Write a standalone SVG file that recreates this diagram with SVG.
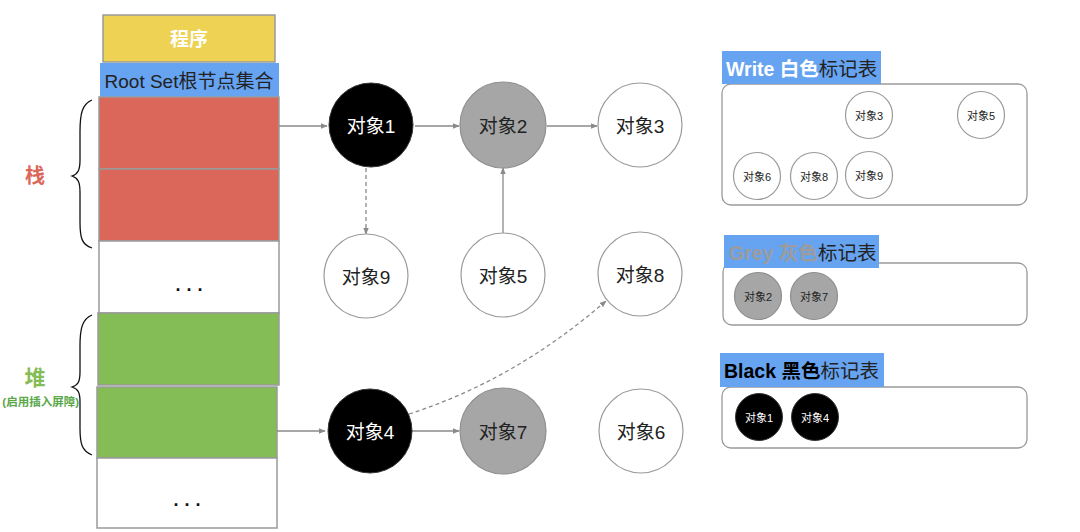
<svg xmlns="http://www.w3.org/2000/svg" width="1080" height="532" viewBox="0 0 1080 532">
<defs>
<marker id="arr" viewBox="0 0 10 10" refX="9" refY="5" markerWidth="7" markerHeight="7" orient="auto" markerUnits="userSpaceOnUse">
<path d="M0,1 L10,5 L0,9 z" fill="#8a8a8a"/>
</marker>
<style>
text{font-family:"Liberation Sans","Noto Sans CJK SC",sans-serif}
.box{stroke:#9a9a9a;stroke-width:1.5}
.c-white{fill:#fff;stroke:#9a9a9a;stroke-width:1.2}
.c-grey{fill:#a6a6a6;stroke:#8e8e8e;stroke-width:1.2}
.c-black{fill:#000;stroke:#333;stroke-width:1}
.lbl{font-size:19px;text-anchor:middle;dominant-baseline:central;fill:#222}
.lblw{font-size:19px;text-anchor:middle;dominant-baseline:central;fill:#fff}
.sl{font-size:11px;text-anchor:middle;dominant-baseline:central;fill:#222}
.slw{font-size:11px;text-anchor:middle;dominant-baseline:central;fill:#fff}
.edge{stroke:#8a8a8a;stroke-width:1.3;fill:none}
.dash{stroke-dasharray:4 3}
.panel{fill:#fff;stroke:#9a9a9a;stroke-width:1.3}
.tag{fill:#66a3f1}
.tagt{font-size:19.5px}
.dots{font-size:18px;font-weight:bold;text-anchor:middle;fill:#111;letter-spacing:6px}
.brace{fill:none;stroke:#111;stroke-width:1.3}
</style>
</defs>
<rect width="1080" height="532" fill="#fff"/>

<g id="program">
<rect x="103" y="15" width="172" height="47" fill="#eed253" class="box"/>
<text x="189" y="39" font-size="19" font-weight="bold" fill="#fff" text-anchor="middle" dominant-baseline="central">程序</text>
</g>
<g id="rootset">
<rect x="100" y="63" width="179" height="34" fill="#66a3f1"/>
<text x="189" y="81" font-size="19" fill="#222" text-anchor="middle" dominant-baseline="central">Root Set根节点集合</text>
</g>
<g id="stack-1"><rect x="99" y="97" width="180" height="72" fill="#db665a" class="box"/></g>
<g id="stack-2"><rect x="99" y="169" width="180" height="72" fill="#db665a" class="box"/></g>
<g id="stack-more"><rect x="99" y="241" width="180" height="72" fill="#fff" class="box"/>
<text x="192" y="291" class="dots">...</text></g>
<g id="heap-1"><rect x="98" y="313" width="181" height="72" fill="#84bc55" class="box"/></g>
<g id="heap-2"><rect x="97" y="387" width="180" height="71" fill="#84bc55" class="box"/></g>
<g id="heap-more"><rect x="97" y="458" width="180" height="70" fill="#fff" class="box"/>
<text x="190" y="506" class="dots">...</text></g>

<g id="stack-brace">
<path class="brace" d="M92 100 C82 104 80 114 80 132 L80 160 C80 170 78 174 72 176 C78 178 80 182 80 192 L80 222 C80 238 82 245 92 248"/>
<text x="35" y="176" font-size="20" font-weight="bold" fill="#db665a" text-anchor="middle" dominant-baseline="central">栈</text>
</g>
<g id="heap-brace">
<path class="brace" d="M92 315 C82 319 80 329 80 346 L80 372 C80 382 78 385 72 387 C78 389 80 392 80 402 L80 428 C80 444 82 451 92 455"/>
<text x="35" y="377" font-size="21" font-weight="bold" fill="#84bc55" text-anchor="middle" dominant-baseline="central">堆</text>
<text x="79" y="402" font-size="11.5" font-weight="bold" fill="#5aa84a" text-anchor="end" dominant-baseline="central">(启用插入屏障)</text>
</g>

<g id="connectors">
<line class="edge" x1="279" y1="126" x2="327" y2="126" marker-end="url(#arr)"/>
<line class="edge" x1="415" y1="126" x2="459" y2="126" marker-end="url(#arr)"/>
<line class="edge" x1="547" y1="126" x2="597" y2="126" marker-end="url(#arr)"/>
<line class="edge dash" x1="366" y1="168" x2="366" y2="234" marker-end="url(#arr)"/>
<line class="edge" x1="503" y1="233" x2="503" y2="168" marker-end="url(#arr)"/>
<line class="edge" x1="277" y1="431" x2="325" y2="431" marker-end="url(#arr)"/>
<line class="edge" x1="412" y1="431" x2="459" y2="431" marker-end="url(#arr)"/>
<path class="edge dash" d="M409 414 Q515 380 606 301" marker-end="url(#arr)"/>
</g>

<g id="obj1"><circle cx="371" cy="125" r="42" class="c-black"/><text x="371" y="126" class="lblw">对象1</text></g>
<g id="obj2"><circle cx="503" cy="125" r="43" class="c-grey"/><text x="503" y="126" class="lbl">对象2</text></g>
<g id="obj3"><circle cx="640" cy="125" r="42" class="c-white"/><text x="640" y="126" class="lbl">对象3</text></g>
<g id="obj9"><circle cx="366" cy="276" r="42" class="c-white"/><text x="366" y="277" class="lbl">对象9</text></g>
<g id="obj5"><circle cx="503" cy="275" r="42" class="c-white"/><text x="503" y="276" class="lbl">对象5</text></g>
<g id="obj8"><circle cx="640" cy="274" r="42" class="c-white"/><text x="640" y="275" class="lbl">对象8</text></g>
<g id="obj4"><circle cx="370" cy="431" r="42" class="c-black"/><text x="370" y="432" class="lblw">对象4</text></g>
<g id="obj7"><circle cx="503" cy="431" r="43" class="c-grey"/><text x="503" y="432" class="lbl">对象7</text></g>
<g id="obj6"><circle cx="641" cy="431" r="42" class="c-white"/><text x="641" y="432" class="lbl">对象6</text></g>

<g id="white-table">
<rect x="722" y="84" width="305" height="121" rx="9" class="panel"/>
<rect x="722" y="51" width="159" height="33" class="tag"/>
<text x="726" y="76" class="tagt"><tspan fill="#fff" font-weight="bold">Write 白色</tspan><tspan fill="#222">标记表</tspan></text>
<circle cx="869" cy="115" r="23.5" class="c-white"/><text x="869" y="116" class="sl">对象3</text>
<circle cx="981" cy="115" r="23.5" class="c-white"/><text x="981" y="116" class="sl">对象5</text>
<circle cx="757" cy="176" r="23.5" class="c-white"/><text x="757" y="177" class="sl">对象6</text>
<circle cx="814" cy="176" r="23.5" class="c-white"/><text x="814" y="177" class="sl">对象8</text>
<circle cx="869" cy="175" r="23.5" class="c-white"/><text x="869" y="176" class="sl">对象9</text>
</g>

<g id="grey-table">
<rect x="723" y="263" width="304" height="62" rx="9" class="panel"/>
<rect x="724" y="235" width="155" height="33" class="tag"/>
<text x="729" y="260" class="tagt"><tspan fill="#9c9c9c" font-weight="bold">Grey 灰色</tspan><tspan fill="#222">标记表</tspan></text>
<circle cx="758" cy="296" r="23.5" class="c-grey"/><text x="758" y="297" class="sl">对象2</text>
<circle cx="814" cy="296" r="23.5" class="c-grey"/><text x="814" y="297" class="sl">对象7</text>
</g>

<g id="black-table">
<rect x="722" y="387" width="305" height="61" rx="9" class="panel"/>
<rect x="720" y="353" width="164" height="34" class="tag"/>
<text x="724" y="378" class="tagt"><tspan fill="#000" font-weight="bold">Black 黑色</tspan><tspan fill="#222">标记表</tspan></text>
<circle cx="759" cy="417" r="23.5" class="c-black"/><text x="759" y="418" class="slw">对象1</text>
<circle cx="815" cy="417" r="23.5" class="c-black"/><text x="815" y="418" class="slw">对象4</text>
</g>
</svg>
